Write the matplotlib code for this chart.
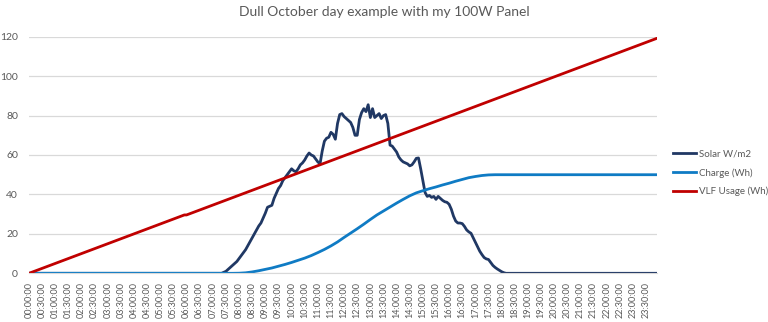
#!/usr/bin/env python3
"""Solar irradiance, battery charge and VLF usage over one dull October day."""

import numpy as np
import matplotlib
matplotlib.use("Agg")
import matplotlib.pyplot as plt

plt.rcParams["font.family"] = ["Lato", "DejaVu Sans"]

TITLE = "Dull October day example with my 100W Panel"
STEP_MIN = 5

# Solar reading every 5 minutes, from 07:20 to 18:10 (zero outside that window)
SOLAR_START = "07:20"
solar_wm2 = [
    0, 0.5, 1, 2, 3, 4, 5, 6, 7.5,
    9, 10.5, 12, 14, 16, 18, 20, 22, 24, 25.5, 28, 30.5,
    33.5, 34, 34.5, 38, 40.5, 43, 44.5, 47, 48.5, 50, 51.5, 53,
    52, 51.5, 53, 55, 56, 57.5, 59.5, 61, 60, 59.5, 58, 56.5, 55.5,
    62, 67, 68.5, 69, 71.5, 70.5, 68, 76, 80.5, 81, 79.5,
    78.5, 77.5, 76.5, 74, 70, 70, 78, 81.5, 83.5, 82,
    85.5, 79, 83.5, 79, 80, 81, 78.5, 80, 80.5, 76,
    65, 64.5, 63, 61.5, 59, 57.5, 56.5, 56, 55.5, 54.5, 55, 56.5, 58.3, 58.5,
    53, 47, 41, 39, 39.5, 38.5, 39, 37.5, 39, 38, 37, 36.3, 36, 35,
    32.5, 29, 26.5, 25.5, 25.5, 25.2, 23.8, 22, 21, 20.3, 18, 15.7, 13.5,
    11.2, 9.5, 8, 7.3, 7, 5.5, 4, 3, 2.2, 1.5, 0.8, 0.3, 0,
]

# Battery charge (Wh), read every 15 minutes
charge_times = [
    "00:00", "07:45", "08:00", "08:15", "08:30", "08:45", "09:00", "09:15",
    "09:30", "09:45", "10:00", "10:15", "10:30", "10:45", "11:00", "11:15",
    "11:30", "11:45", "12:00", "12:15", "12:30", "12:45", "13:00", "13:15",
    "13:30", "13:45", "14:00", "14:15", "14:30", "14:45", "15:00", "15:15",
    "15:30", "15:45", "16:00", "16:15", "16:30", "16:45", "17:00", "17:15",
    "17:30", "17:45", "23:55",
]
charge_wh = [
    0, 0, 0.05, 0.25, 0.7, 1.3, 2.0, 2.7,
    3.6, 4.5, 5.5, 6.6, 7.7, 9.0, 10.5, 12.1,
    13.9, 15.9, 18.2, 20.4, 22.6, 24.9, 27.3, 29.6,
    31.6, 33.6, 35.6, 37.5, 39.3, 40.8, 41.9, 42.9,
    43.8, 44.8, 45.7, 46.7, 47.6, 48.5, 49.1, 49.6,
    49.9, 50.0, 50.0,
]

# Cumulative VLF receiver usage (Wh)
vlf_times = ["00:00", "05:55", "06:00", "23:55"]
vlf_wh = [0, 29.6, 29.6, 119.2]

COLORS = {"solar": "#203864", "charge": "#0F7BC4", "vlf": "#C00000"}
GREY_TEXT = "#595959"
GRID = "#d9d9d9"


def slot(hhmm: str) -> int:
    h, m = hhmm.split(":")
    return (int(h) * 60 + int(m)) // STEP_MIN


def main() -> None:
    n_slots = 24 * 60 // STEP_MIN
    labels = [f"{i * STEP_MIN // 60:02d}:{i * STEP_MIN % 60:02d}:00" for i in range(n_slots)]

    solar = np.zeros(n_slots)
    start = slot(SOLAR_START)
    solar[start:start + len(solar_wm2)] = solar_wm2

    fig = plt.figure(figsize=(7.68, 3.22), dpi=100)
    ax = fig.add_axes([29 / 768, 48.7 / 322, 628 / 768, 236.6 / 322])

    lw = 2.0
    ax.plot(np.arange(n_slots), solar, color=COLORS["solar"], lw=lw,
            label="Solar W/m2", solid_joinstyle="round")
    ax.plot([slot(t) for t in charge_times], charge_wh, color=COLORS["charge"], lw=lw,
            label="Charge (Wh)")
    ax.plot([slot(t) for t in vlf_times], vlf_wh, color=COLORS["vlf"], lw=lw,
            label="VLF Usage (Wh)")

    ax.set_xlim(0, n_slots - 1)
    ax.set_ylim(0, 120)
    ax.set_yticks(range(0, 121, 20))
    ax.set_xticks(range(0, n_slots, 6))
    ax.set_xticklabels(labels[::6], rotation=90, fontsize=6.5, color=GREY_TEXT)
    ax.tick_params(axis="y", labelsize=7.5, colors=GREY_TEXT, length=0, pad=8)
    ax.tick_params(axis="x", length=0, pad=6)
    ax.grid(axis="y", color=GRID, lw=0.9)
    ax.set_axisbelow(True)
    for side in ("top", "right", "left"):
        ax.spines[side].set_visible(False)
    ax.spines["bottom"].set_color(GRID)

    fig.text(0.5, 1 - 12 / 322, TITLE, ha="center", va="center",
             fontsize=10, color=GREY_TEXT)

    fig.legend(loc="center left", bbox_to_anchor=(673 / 768, 1 - 173 / 322),
               frameon=False, fontsize=7, handlelength=2.4, handletextpad=0.25,
               labelspacing=0.95, borderpad=0, borderaxespad=0,
               labelcolor=GREY_TEXT)

    fig.savefig("out.png", dpi=100)
    plt.close(fig)


if __name__ == "__main__":
    main()
